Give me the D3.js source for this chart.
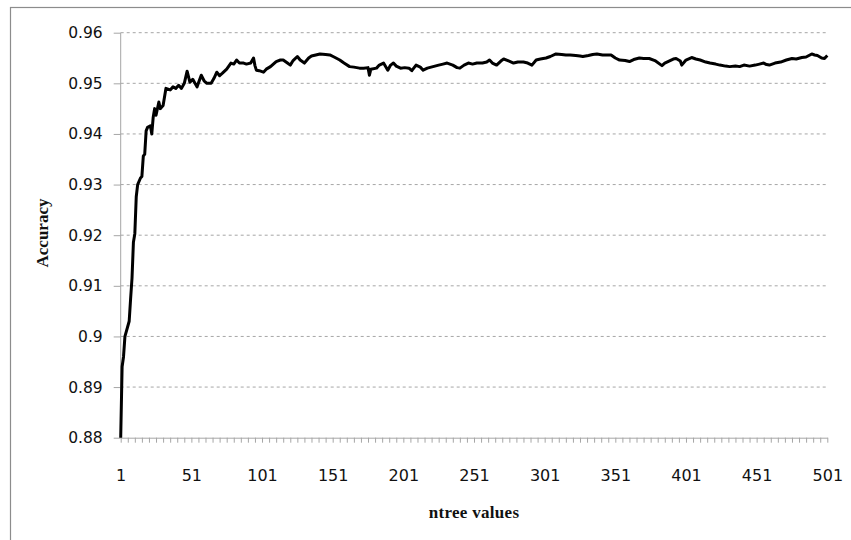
<html>
	<head>
		<script type="text/javascript" src="https://cdn.jsdelivr.net/npm/d3@7/dist/d3.min.js"></script>
		<style>
			body { margin: 0; background: #fff; }
		</style>
	</head>
	<body>
		<script type="text/javascript">

			// data
			var ntree = [1,2,3,4,5,7,8,9,10,11,12,13,15,16,17,18,19,20,22,23,24,25,26,28,29,31,33,36,38,40,42,44,46,48,50,52,55,58,60,62,65,67,69,71,73,76,79,81,83,85,88,90,93,95,96,97,99,102,104,107,109,111,114,116,119,121,123,126,128,131,134,136,139,142,146,149,152,156,159,163,166,170,173,176,177,178,182,184,187,190,192,194,196,199,202,205,207,210,213,215,218,222,226,229,232,236,239,241,244,247,250,253,257,260,262,264,267,270,272,275,279,282,286,289,292,295,298,302,305,309,313,316,319,323,326,328,332,335,338,342,345,348,351,354,358,361,364,368,371,375,379,384,386,389,392,394,397,398,401,405,408,411,415,418,422,425,429,432,436,439,442,446,450,453,456,458,460,464,468,472,476,479,483,486,490,492,494,497,499,501];

			var accuracy = [0.880,0.894,0.896,0.900,0.901,0.903,0.9074,0.9115,0.9186,0.9203,0.9276,0.930,0.9313,0.9316,0.9356,0.936,0.9406,0.9413,0.9416,0.940,0.9433,0.945,0.9437,0.9463,0.945,0.9456,0.9490,0.9487,0.9493,0.9490,0.9496,0.9490,0.9500,0.9524,0.9502,0.9508,0.9493,0.9516,0.9505,0.9500,0.9500,0.9510,0.9522,0.9515,0.9520,0.9528,0.9540,0.9538,0.9546,0.9540,0.9540,0.9538,0.9540,0.9550,0.9535,0.9526,0.9525,0.9522,0.9528,0.9533,0.9538,0.9543,0.9546,0.9546,0.9540,0.9536,0.9545,0.9553,0.9546,0.9540,0.9550,0.9554,0.9556,0.9558,0.9557,0.9556,0.9552,0.9546,0.9540,0.9533,0.9532,0.9530,0.9530,0.9531,0.9516,0.9528,0.9530,0.9536,0.9540,0.9526,0.9536,0.9540,0.9534,0.9530,0.9531,0.9530,0.9525,0.9536,0.9532,0.9526,0.9530,0.9533,0.9536,0.9538,0.9540,0.9536,0.9531,0.9530,0.9536,0.9540,0.9538,0.9540,0.9540,0.9542,0.9546,0.9540,0.9536,0.9544,0.9548,0.9545,0.9540,0.9542,0.9542,0.9540,0.9536,0.9546,0.9548,0.9550,0.9553,0.9558,0.9557,0.9556,0.9556,0.9555,0.9554,0.9553,0.9555,0.9557,0.9558,0.9556,0.9556,0.9556,0.9550,0.9546,0.9545,0.9543,0.9547,0.9550,0.9549,0.9549,0.9545,0.9535,0.9540,0.9544,0.9548,0.9549,0.9544,0.9536,0.9546,0.9551,0.9548,0.9546,0.9542,0.9540,0.9538,0.9536,0.9534,0.9533,0.9534,0.9533,0.9536,0.9534,0.9536,0.9538,0.9540,0.9537,0.9536,0.9540,0.9542,0.9546,0.9549,0.9548,0.9551,0.9552,0.9558,0.9556,0.9555,0.9550,0.9549,0.9555];

			var yTicks = [0.88,0.89,0.90,0.91,0.92,0.93,0.94,0.95,0.96];
			var yLabels = ['0.88','0.89','0.9','0.91','0.92','0.93','0.94','0.95','0.96'];
			var xLabels = [1,51,101,151,201,251,301,351,401,451,501];

			var width = 851,
				height = 540,
				plotL = 120.7,
				plotR = 827.3,
				plotT = 32.7,
				plotB = 437.7;

			var x = d3.scaleLinear()
				.domain([1,501])
				.range([plotL,plotR]);

			var y = d3.scaleLinear()
				.domain([0.88,0.96])
				.range([plotB,plotT]);

			var svg = d3.select('body').append('svg')
				.attr('width',width)
				.attr('height',height);

			// chart area border (only left and top show in the picture)
			svg.append('rect')
				.attr('x',10.5)
				.attr('y',7.5)
				.attr('width',900)
				.attr('height',600)
				.style('fill','#fff')
				.style('stroke','#8c8c8c')
				.style('stroke-width',1.2);

			// gridlines
			svg.append('g').selectAll('line')
				.data(yTicks.slice(1))
				.enter().append('line')
				.attr('x1',plotL)
				.attr('x2',plotR)
				.attr('y1',function(d){ return y(d); })
				.attr('y2',function(d){ return y(d); })
				.style('stroke','#a6a6a6')
				.style('stroke-dasharray','3,3');

			// y axis
			var yAxis = d3.axisLeft(y)
				.tickValues(yTicks)
				.tickSize(7)
				.tickPadding(11)
				.tickFormat(function(d,i){ return yLabels[i]; });

			var gy = svg.append('g')
				.attr('transform','translate(' + plotL + ',0)')
				.call(yAxis);
			gy.select('.domain').remove();
			gy.append('line')
				.attr('x1',0).attr('x2',0)
				.attr('y1',plotT).attr('y2',plotB)
				.style('stroke','#a6a6a6');
			gy.selectAll('.tick line').style('stroke','#a6a6a6');
			gy.selectAll('.tick text')
				.style('font-family','DejaVu Sans')
				.style('font-size','15.5px')
				.style('fill','#111');

			// x axis minor ticks
			var gx = svg.append('g')
				.attr('transform','translate(0,' + plotB + ')')
				.call(d3.axisBottom(x)
					.tickValues(d3.range(1,502,5))
					.tickSize(5)
					.tickSizeOuter(0)
					.tickFormat(''));
			gx.select('.domain').style('stroke','#a6a6a6');
			gx.selectAll('.tick line').style('stroke','#a6a6a6');

			// x axis labels
			var gxl = svg.append('g')
				.attr('transform','translate(0,' + plotB + ')')
				.call(d3.axisBottom(x)
					.tickValues(xLabels)
					.tickSize(0)
					.tickPadding(32)
					.tickFormat(d3.format('d')));
			gxl.select('.domain').remove();
			gxl.selectAll('.tick text')
				.style('font-family','DejaVu Sans')
				.style('font-size','16px')
				.style('fill','#111');

			// the line
			var line = d3.line()
				.x(function(d,i){ return x(ntree[i]); })
				.y(function(d){ return y(d); });

			svg.append('path')
				.datum(accuracy)
				.attr('d',line)
				.style('fill','none')
				.style('stroke','#000')
				.style('stroke-width',3)
				.style('stroke-linejoin','round');

			// axis titles
			svg.append('text')
				.attr('x',474)
				.attr('y',518)
				.attr('text-anchor','middle')
				.style('font-family','Liberation Serif')
				.style('font-weight','bold')
				.style('font-size','17px')
				.style('letter-spacing','0.3px')
				.style('fill','#111')
				.text('ntree values');

			svg.append('text')
				.attr('transform','translate(48,233) rotate(-90)')
				.attr('text-anchor','middle')
				.style('font-family','Liberation Serif')
				.style('font-weight','bold')
				.style('font-size','17px')
				.style('fill','#111')
				.text('Accuracy');

		</script>
	</body>
</html>
